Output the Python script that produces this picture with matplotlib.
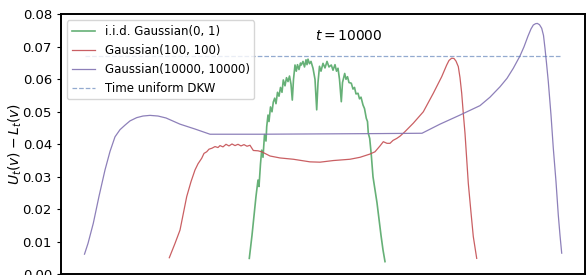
import matplotlib
matplotlib.use("Agg")
import matplotlib.pyplot as plt

# colours (seaborn "deep")
GREEN = "#55a868"
RED = "#c44e52"
PURPLE = "#8172b2"
BLUE = "#4c72b0"

# i.i.d. Gaussian(0, 1)
g_x = [249.3, 252, 254, 256, 258, 259, 260.5, 261.7, 263, 264.5, 266, 266.7, 268, 269,
       270.5, 272, 273.3, 274.7, 276, 277.5, 279, 280.5, 282, 283.3, 285, 286.5, 288,
       289.5, 291, 292.3, 293.5, 295, 296.3, 297.5, 299, 300.5, 301.3, 303, 304.5, 306,
       307, 308, 309.5, 311, 313, 315, 316.7, 318, 319.5, 321, 323, 325, 327, 329, 331.3,
       333, 335, 336.5, 338, 339.5, 341.3, 342.5, 344.7, 346, 347.5, 349, 351.3, 353,
       354.5, 356, 358, 359.5, 361, 363, 364.5, 366.3, 367.5, 368.3, 369.7, 371.3, 373,
       375, 377, 379, 381, 383, 385]
g_y = [0.0049, 0.0120, 0.0180, 0.0240, 0.0290, 0.0270, 0.0340, 0.0382, 0.0360, 0.0430,
       0.0410, 0.0454, 0.0490, 0.0470, 0.0515, 0.0500, 0.0530, 0.0542, 0.0525, 0.0560,
       0.0548, 0.0575, 0.0560, 0.0598, 0.0580, 0.0605, 0.0593, 0.0610, 0.0585, 0.0536,
       0.0600, 0.0644, 0.0625, 0.0645, 0.0630, 0.0650, 0.0644, 0.0655, 0.0638, 0.0660,
       0.0645, 0.0662, 0.0648, 0.0655, 0.0634, 0.0600, 0.0506, 0.0590, 0.0640, 0.0625,
       0.0649, 0.0635, 0.0655, 0.0638, 0.0644, 0.0628, 0.0645, 0.0625, 0.0634, 0.0600,
       0.0531, 0.0590, 0.0618, 0.0600, 0.0608, 0.0590, 0.0588, 0.0570, 0.0575, 0.0555,
       0.0557, 0.0540, 0.0545, 0.0521, 0.0510, 0.0480, 0.0470, 0.0434, 0.0418, 0.0367,
       0.0300, 0.0260, 0.0220, 0.0170, 0.0120, 0.0075, 0.0039]

# Gaussian(100, 100)
r_x = [169.3, 175, 180, 186.7, 191, 195, 198, 201.7, 204, 206.7, 209, 212, 215, 218,
       220, 223, 226, 229, 232, 235, 238, 241, 244, 247, 250, 253.3, 258, 261.7, 270,
       280, 293.3, 310, 320, 333.3, 350, 360, 370, 375, 380, 383.3, 387, 390, 393, 396.7,
       400, 405, 413.3, 423.3, 433.3, 441.7, 446.7, 449, 451.7, 454, 456, 458.3, 460,
       461.7, 463.3, 465, 468.3, 471, 473.3, 476.7]
r_y = [0.0051, 0.0095, 0.0136, 0.0239, 0.0285, 0.0321, 0.0340, 0.0357, 0.0372, 0.0377,
       0.0385, 0.0388, 0.0393, 0.0390, 0.0396, 0.0392, 0.0400, 0.0395, 0.0401, 0.0396,
       0.0400, 0.0395, 0.0399, 0.0394, 0.0397, 0.0381, 0.0380, 0.0377, 0.0364, 0.0358,
       0.0354, 0.0346, 0.0345, 0.0350, 0.0354, 0.0360, 0.0370, 0.0377, 0.0395, 0.0408,
       0.0403, 0.0403, 0.0412, 0.0418, 0.0425, 0.0439, 0.0465, 0.0500, 0.0557, 0.0608,
       0.0644, 0.0658, 0.0665, 0.0664, 0.0656, 0.0639, 0.0605, 0.0557, 0.0495, 0.0434,
       0.0280, 0.0190, 0.0116, 0.0049]

# Gaussian(10000, 10000)
p_x = [84.5, 88, 93.3, 99, 105, 110, 115, 120, 125, 130, 136.7, 143, 150, 158, 166, 180,
       195, 210, 260, 320, 380, 422, 440, 460, 480, 490, 500, 507, 513.3, 520, 524, 528,
       531, 533.3, 535.5, 537.3, 539.5, 541.7, 543.5, 545, 546.5, 548.3, 551, 553.3, 556,
       558.3, 560, 561.7]
p_y = [0.0062, 0.0095, 0.0157, 0.0240, 0.0321, 0.0378, 0.0423, 0.0445, 0.0459, 0.0472,
       0.0482, 0.0487, 0.0489, 0.0487, 0.0481, 0.0462, 0.0447, 0.0431, 0.0431, 0.0432,
       0.0433, 0.0434, 0.0462, 0.0490, 0.0519, 0.0545, 0.0577, 0.0603, 0.0634, 0.0672,
       0.0700, 0.0733, 0.0755, 0.0767, 0.0771, 0.0772, 0.0768, 0.0757, 0.0735, 0.0695,
       0.0650, 0.0593, 0.0490, 0.0388, 0.0285, 0.0182, 0.0120, 0.0065]

# time uniform DKW bound
dkw_x = [85, 561]
dkw_level = 0.0673

fig = plt.figure(figsize=(5.86, 2.75), dpi=100)
ax = fig.add_axes([61 / 586, 0.7 / 275, 524 / 586, 260 / 275])

ax.plot(g_x, g_y, color=GREEN, lw=1.2, alpha=0.9, label="i.i.d. Gaussian(0, 1)")
ax.plot(r_x, r_y, color=RED, lw=0.9, alpha=0.9, label="Gaussian(100, 100)")
ax.plot(p_x, p_y, color=PURPLE, lw=0.9, alpha=0.9, label="Gaussian(10000, 10000)")
ax.plot(dkw_x, [dkw_level, dkw_level], color=BLUE, ls="--", lw=0.9, alpha=0.6,
        label="Time uniform DKW")

ax.text(315, 0.0733, "$t = 10000$", fontsize=10, va="center", ha="left")

ax.set_xlim(61, 585)
ax.set_ylim(0, 0.08)
ax.set_yticks([0, 0.01, 0.02, 0.03, 0.04, 0.05, 0.06, 0.07, 0.08])
ax.set_xticks([])
ax.tick_params(axis="y", labelsize=9.5, length=3)
ax.set_ylabel("$U_t(v) - L_t(v)$", fontsize=10, labelpad=-1)
for s in ax.spines.values():
    s.set_linewidth(1.4)

ax.legend(loc="upper left", fontsize=8.5, framealpha=0.8)

fig.savefig("out.png", dpi=100)
